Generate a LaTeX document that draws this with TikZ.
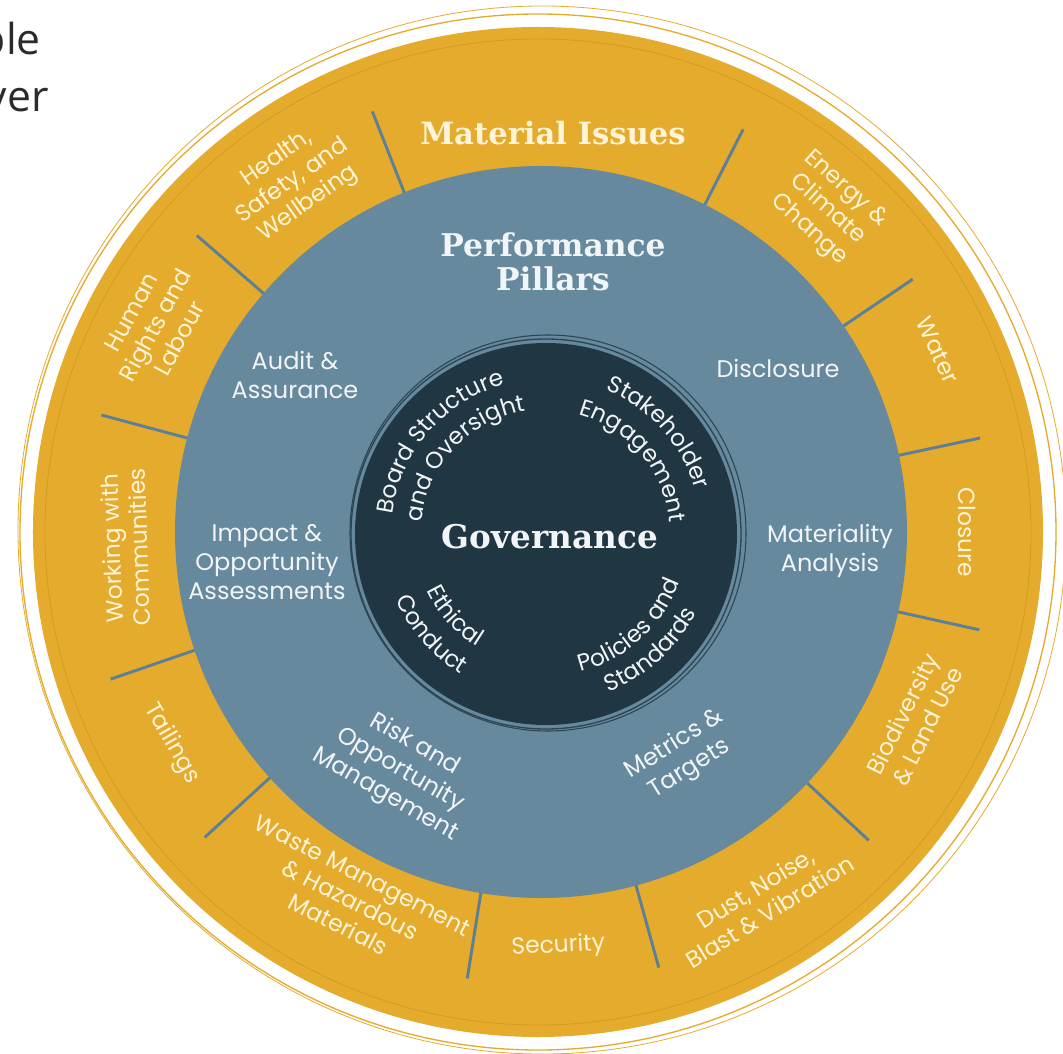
\documentclass[tikz,border=0pt]{standalone}
\usepackage{fontspec}
\setmainfont{Poppins}
\newfontfamily\slabfont{DejaVu Serif}
\newfontfamily\headfont{Open Sans}
\usetikzlibrary{positioning}
\usetikzlibrary{decorations.text}
\definecolor{mgold}{HTML}{E4AB2C}
\definecolor{mgoldline}{HTML}{D49B22}
\definecolor{mblue}{HTML}{66899E}
\definecolor{mdark}{HTML}{203643}
\definecolor{mring}{HTML}{2B4554}
\definecolor{mdivider}{HTML}{5E8096}
\definecolor{cream}{HTML}{FFF4D8}
\definecolor{pale}{HTML}{F2F5F7}
\definecolor{headgray}{HTML}{2B2B2B}

\begin{document}
\begin{tikzpicture}[x=0.75pt, y=0.75pt,
    issue/.style = {text=cream, align=center, font=\fontsize{17.5}{20.5}\selectfont},
    pillar/.style = {text=pale, align=center, font=\fontsize{18}{21.75}\selectfont},
    slab/.style = {text=pale, align=center, font=\slabfont\bfseries\fontsize{23.5}{25.5}\selectfont},
    govlbl/.style = {decorate, decoration={text along path, text align=center, text color=pale}}]
        \useasboundingbox (-538,-521) rectangle (525,532);

        %Text oben links
        \node[text=headgray, inner sep=0pt, font=\headfont\fontsize{32}{40}\selectfont, anchor=base east] (ple) at (-497,477) {ple};
        \node[text=headgray, inner sep=0pt, font=\headfont\fontsize{32}{40}\selectfont, anchor=base east] (ver) at (-489,420) {ver};

        %Ringe
        \draw[mgold, line width=1pt] (0,0) circle[radius=518];
        \draw[mgold, line width=0.6pt] (4,2) circle[radius=524];
        \fill[mgold] (0,0) circle[radius=505];
        \draw[mgoldline, line width=0.6pt] (0,0) circle[radius=493];
        \foreach \a in {111.5,139,165,199,222.5,261,285.5,317,347.5,12,34,63}
            \draw[mdivider, line width=2.2pt] (\a:340) -- (\a:452);
        \fill[mblue] (3,0) circle[radius=366];
        \draw[mring, line width=0.8pt] (10,-1) circle[radius=198];
        \draw[mring, line width=1pt] (8,-2) circle[radius=195];
        \fill[mdark] (8,-2) circle[radius=191];

        %Material Issues
        \node[slab, text=cream, font=\slabfont\bfseries\fontsize{23}{25}\selectfont] (mat) at (15,399) {Material Issues};
        \node[issue, rotate=35] (hsw) at (125:428) {Health,\\Safety, and\\Wellbeing};
        \node[issue, rotate=61.6] (hrl) at (151.6:435) {Human\\Rights and\\Labour};
        \node[issue, rotate=92] (wwc) at (182.2:413) {Working with\\Communities};
        \node[issue, rotate=-60] (tail) at (210:423) {Tailings};
        \node[issue, rotate=-27] (waste) at (243:413) {Waste Management\\\& Hazardous\\Materials};
        \node[issue, rotate=2.8] (sec) at (272.8:415) {Security};
        \node[issue, rotate=31.4] (dust) at (301.4:431) {Dust, Noise,\\Blast \& Vibration};
        \node[issue, rotate=63.5] (bio) at (333.5:421) {Biodiversity\\\& Land Use};
        \node[issue, rotate=-90] (clos) at (0:429) {Closure};
        \node[issue, rotate=-65.5] (water) at (24.5:439) {Water};
        \node[issue, rotate=-41.9] (energy) at (48.1:433) {Energy \&\\Climate\\Change};

        %Performance Pillars
        \node[slab] (perf) at (15,270) {Performance\\Pillars};
        \node[pillar] (audit) at (-243,157) {Audit \&\\Assurance};
        \node[pillar] (discl) at (240,164) {Disclosure};
        \node[pillar] (impact) at (-271,-30) {Impact \&\\Opportunity\\Assessments};
        \node[pillar] (matan) at (292,-19) {Materiality\\Analysis};
        \node[pillar, rotate=-30] (risk) at (-138,-238) {Risk and\\Opportunity\\Management};
        \node[pillar, rotate=32] (metrics) at (144,-225) {Metrics \&\\Targets};

        %Governance
        \node[slab, font=\slabfont\bfseries\fontsize{24.5}{26}\selectfont] (gov) at (12,-5) {Governance};
        \path[govlbl, decoration={text={|\fontsize{17.5}{19}\selectfont|Board Structure}}]
            (8,-2) ++(194:155) arc[start angle=194, end angle=84, radius=155];
        \path[govlbl, decoration={text={|\fontsize{17.5}{19}\selectfont|and Oversight}}]
            (8,-2) ++(192:125) arc[start angle=192, end angle=82, radius=125];
        \path[govlbl, decoration={text={|\fontsize{17.5}{19}\selectfont|Stakeholder}}]
            (8,-2) ++(97:156) arc[start angle=97, end angle=-13, radius=156];
        \path[govlbl, decoration={text={|\fontsize{17.5}{19}\selectfont|Engagement}}]
            (8,-2) ++(95:124) arc[start angle=95, end angle=-15, radius=124];
        \path[govlbl, decoration={text={|\fontsize{17.5}{19}\selectfont|Policies and}}]
            (8,-2) ++(-103:142) arc[start angle=-103, end angle=7, radius=142];
        \path[govlbl, decoration={text={|\fontsize{17.5}{19}\selectfont|Standards}}]
            (8,-2) ++(-103:170) arc[start angle=-103, end angle=7, radius=170];
        \path[govlbl, decoration={text={|\fontsize{17.5}{19}\selectfont|Ethical}}]
            (8,-2) ++(167:132) arc[start angle=167, end angle=277, radius=132];
        \path[govlbl, decoration={text={|\fontsize{17.5}{19}\selectfont|Conduct}}]
            (8,-2) ++(166:164) arc[start angle=166, end angle=276, radius=164];
    \end{tikzpicture}
\end{document}
